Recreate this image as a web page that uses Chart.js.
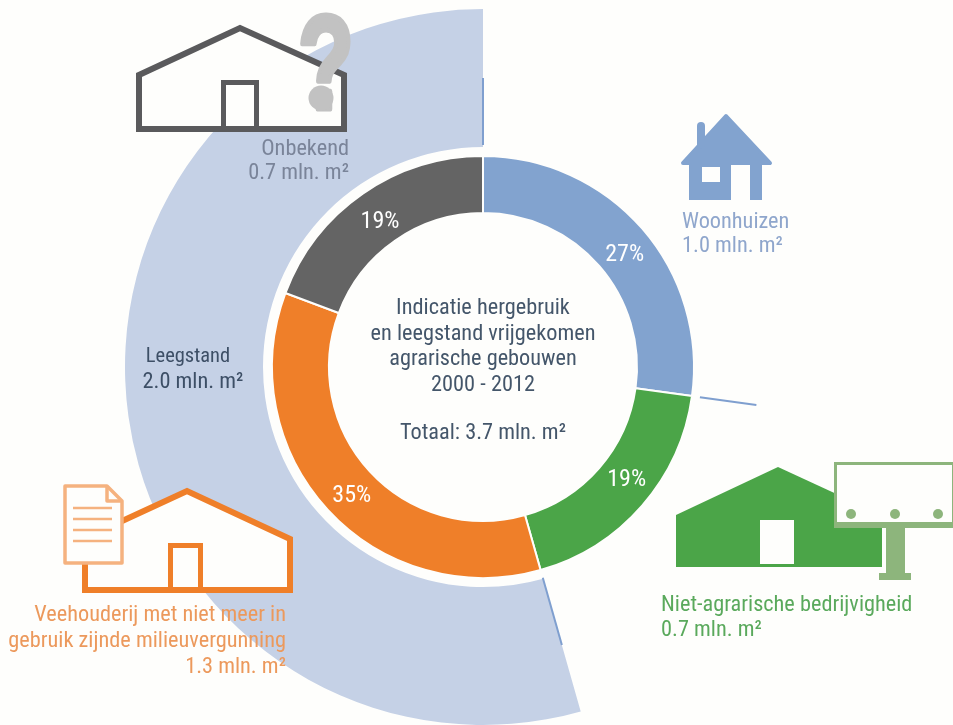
<!DOCTYPE html>
<html><head><meta charset="utf-8">
<style>html,body{margin:0;padding:0;background:#fefefc}canvas{display:block}</style>
<script src="https://cdn.jsdelivr.net/npm/chart.js@4"></script>
</head><body><canvas id="c" width="953" height="725"></canvas>
<script>
const categories = ['Woonhuizen','Niet-agrarische bedrijvigheid','Veehouderij met niet meer in gebruik zijnde milieuvergunning','Onbekend'];
const shares = [27.2,18.4,35.1,19.3];
const percentLabels = ['27%','19%','35%','19%'];
const vacancyLabels = ['Hergebruik','Leegstand'];
const vacancyShares = [45.6,54.4];
const shareColors = ['#82a3cf','#4ba548','#ef7f29','#646464'];
const percentOffsets = [[4,7],[6,-8],[3,4],[1,4]];
const FONT = '"Liberation Sans Narrow","Roboto Condensed","Liberation Sans",sans-serif';
const labels = [
 {t:'Indicatie hergebruik',x:483,y:308,a:'center',c:'#44566a'},
 {t:'en leegstand vrijgekomen',x:483,y:334,a:'center',c:'#44566a'},
 {t:'agrarische gebouwen',x:483,y:359,a:'center',c:'#44566a'},
 {t:'2000 - 2012',x:483,y:385,a:'center',c:'#44566a'},
 {t:'Totaal: 3.7 mln. m²',x:483,y:433,a:'center',c:'#44566a'},
 {t:'Onbekend',x:349,y:149,a:'right',c:'#7a8499'},
 {t:'0.7 mln. m²',x:349,y:173,a:'right',c:'#7a8499'},
 {t:'Woonhuizen',x:682,y:222,a:'left',c:'#8fa6cc'},
 {t:'1.0 mln. m²',x:682,y:246,a:'left',c:'#8fa6cc'},
 {t:'Niet-agrarische bedrijvigheid',x:661,y:605,a:'left',c:'#5aa95c'},
 {t:'0.7 mln. m²',x:661,y:630,a:'left',c:'#5aa95c'},
 {t:'Veehouderij met niet meer in',x:286,y:615,a:'right',c:'#ec995c'},
 {t:'gebruik zijnde milieuvergunning',x:286,y:641,a:'right',c:'#ec995c'},
 {t:'1.3 mln. m²',x:286,y:667,a:'right',c:'#ec995c'},
 {t:'Leegstand',x:188,y:357,a:'center',c:'#3d4f66',s:20.5},
 {t:'2.0 mln. m²',x:193,y:382,a:'center',c:'#3d4f66'}
];
function poly(ctx,pts,close){ctx.beginPath();pts.forEach((p,i)=>i?ctx.lineTo(p[0],p[1]):ctx.moveTo(p[0],p[1]));if(close)ctx.closePath();}
function drawIcons(ctx){
  ctx.save();ctx.lineJoin='miter';
  // grey house
  ctx.fillStyle='#fefefc';ctx.strokeStyle='#5a5a5c';ctx.lineWidth=6;
  poly(ctx,[[139,129],[139,75],[240,28],[344,75],[344,129]],true);ctx.fill();ctx.stroke();
  ctx.lineWidth=5;ctx.strokeRect(223.5,82.5,33,46);
  // question mark
  ctx.save();
  ctx.translate(326,109);ctx.scale(0.72,1.05);
  ctx.fillStyle='#c2c2c2';ctx.strokeStyle='#c2c2c2';ctx.lineWidth=5;ctx.lineJoin='round';
  ctx.font='bold 128px "Liberation Sans Narrow","Liberation Sans",sans-serif';ctx.textAlign='center';ctx.textBaseline='alphabetic';
  ctx.fillText('?',0,0);ctx.strokeText('?',0,0);
  ctx.restore();
  ctx.fillStyle='#c2c2c2';ctx.beginPath();ctx.arc(321,98,12.5,0,7);ctx.fill();
  // blue house
  ctx.fillStyle='#82a3cf';ctx.strokeStyle='#82a3cf';ctx.lineJoin='round';ctx.lineWidth=4;
  poly(ctx,[[726,116],[770,163],[683,163]],true);ctx.fill();ctx.stroke();
  ctx.lineCap='round';ctx.lineWidth=8;poly(ctx,[[701,126],[701,145]]);ctx.stroke();ctx.lineCap='butt';
  ctx.fillRect(689,163,73,37);
  ctx.fillStyle='#fefefc';ctx.fillRect(731,165,19,36);ctx.fillRect(702,167,18,15);
  // green barn
  ctx.fillStyle='#4ba548';poly(ctx,[[676,567],[676,515],[778,467],[882,515],[882,567]],true);ctx.fill();
  ctx.fillStyle='#fefefc';ctx.fillRect(760,520,34,44);
  // billboard
  ctx.fillStyle='#fefefc';ctx.fillRect(835,463,118,60);
  ctx.strokeStyle='#8db57c';ctx.lineWidth=3;ctx.lineJoin='miter';ctx.strokeRect(835.5,463.5,118,62);
  ctx.fillStyle='#8db57c';ctx.fillRect(834,522,119,6);ctx.fillRect(886,528,19,45);ctx.fillRect(879,573,32,7);
  [851,895,938].forEach(x=>{ctx.beginPath();ctx.arc(x,514,5,0,7);ctx.fill();});
  // orange house
  ctx.fillStyle='#fefefc';ctx.strokeStyle='#ef7f29';ctx.lineWidth=6;
  poly(ctx,[[85,590],[85,539],[187,491],[290,539],[290,590]],true);ctx.fill();
  poly(ctx,[[85,560],[85,590],[290,590],[290,539],[187,491],[120,522]]);ctx.stroke();
  ctx.lineWidth=5;ctx.strokeRect(170.5,545.5,30,45);
  // document
  ctx.fillStyle='#fefefc';ctx.strokeStyle='#f5b27f';ctx.lineWidth=3.5;ctx.lineJoin='round';
  poly(ctx,[[65,486],[107,486],[122,501],[122,563],[65,563]],true);ctx.fill();ctx.stroke();
  poly(ctx,[[107,486],[107,501],[122,501]]);ctx.stroke();
  ctx.lineWidth=2.5;[508,519,530,541].forEach(y=>{poly(ctx,[[73,y],[112,y]]);ctx.stroke();});
  ctx.restore();
}
const overlay={id:'overlay',afterDatasetsDraw(chart){
  const ctx=chart.ctx;
  const arcs=chart.getDatasetMeta(2).data;
  const cx=arcs[0].x,cy=arcs[0].y;
  // radial rules at the category boundaries
  const rules=[[arcs[0].startAngle,222,289],[arcs[1].startAngle,219,276],[arcs[2].startAngle,219,289]];
  ctx.save();ctx.strokeStyle='#7f9fcf';ctx.lineWidth=2;
  rules.forEach(([a,r0,r1])=>{ctx.beginPath();ctx.moveTo(cx+r0*Math.cos(a),cy+r0*Math.sin(a));ctx.lineTo(cx+r1*Math.cos(a),cy+r1*Math.sin(a));ctx.stroke();});
  ctx.restore();
  drawIcons(ctx);
  ctx.save();
  ctx.textBaseline='middle';
  labels.forEach(l=>{ctx.font=(l.s||22.3)+'px '+FONT;ctx.fillStyle=l.c;ctx.textAlign=l.a;ctx.fillText(l.t,l.x,l.y);});
  ctx.font='24px '+FONT;ctx.fillStyle='#fff';ctx.textAlign='center';
  arcs.forEach((a,i)=>{const p=a.getCenterPoint();ctx.fillText(percentLabels[i],p.x+percentOffsets[i][0],p.y+1+percentOffsets[i][1]);});
  ctx.restore();
}};
new Chart(document.getElementById('c'),{
  type:'doughnut',
  data:{labels:categories,datasets:[
    {label:'Leegstand',data:vacancyShares,backgroundColor:['rgba(0,0,0,0)','#c5d1e6'],borderWidth:0,weight:138},
    {label:'spacer',data:[100],backgroundColor:'rgba(0,0,0,0)',borderWidth:0,weight:9},
    {label:'Aandeel',data:shares,backgroundColor:shareColors,borderColor:'#fefefc',borderWidth:2,weight:57}
  ]},
  options:{responsive:false,animation:false,cutout:154/358*100+'%',
    layout:{padding:{left:13,top:9,right:0,bottom:0}},
    plugins:{legend:{display:false},tooltip:{enabled:false}}},
  plugins:[overlay]
});
</script></body></html>
